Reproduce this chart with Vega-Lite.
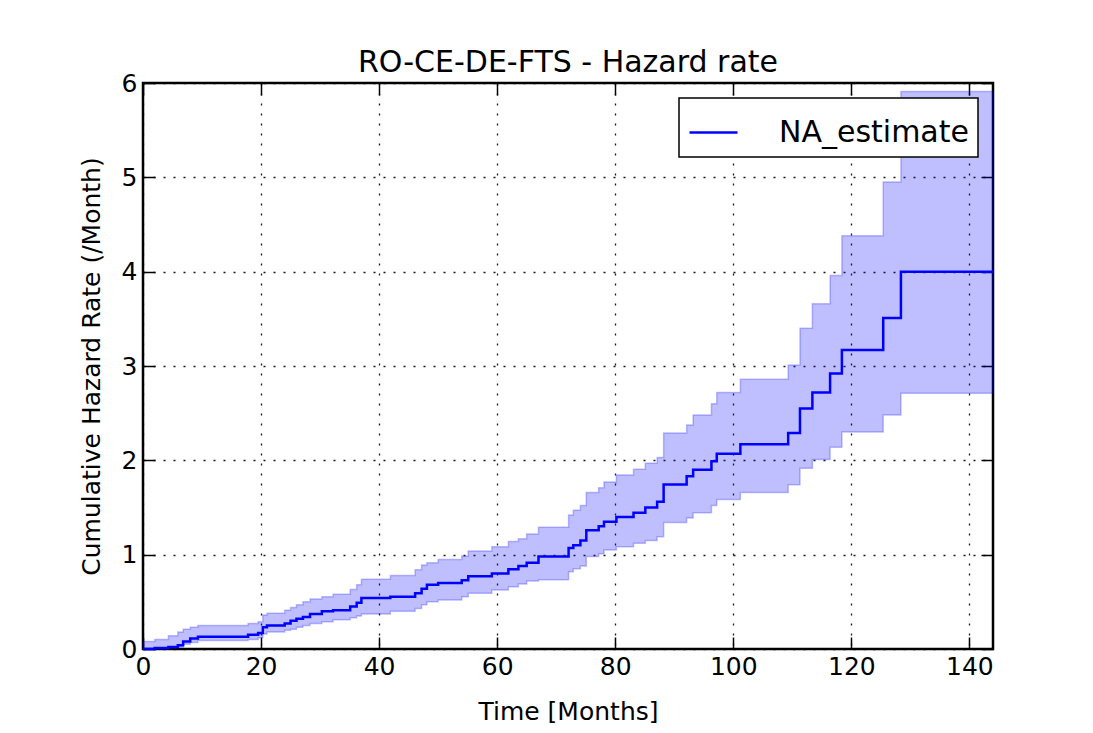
{
  "$schema": "https://vega.github.io/schema/vega-lite/v6.json",
  "width": 850,
  "height": 566,
  "autosize": {"type": "none"},
  "padding": {"left": 143, "top": 83, "right": 100, "bottom": 84},
  "background": "white",
  "title": {"text": "RO-CE-DE-FTS - Hazard rate", "fontSize": 30, "fontWeight": "normal", "color": "black", "font": "DejaVu Sans", "offset": -7},
  "config": {
    "font": "DejaVu Sans",
    "view": {"stroke": "black", "strokeWidth": 2.5},
    "axis": {
      "labelFont": "DejaVu Sans", "labelFontSize": 25, "labelColor": "black", "labelFlush": false,
      "titleFont": "DejaVu Sans", "titleFontSize": 25, "titleFontWeight": "normal", "titleColor": "black",
      "domain": false, "tickColor": "black", "tickWidth": 1.5, "tickSize": -12,
      "gridColor": "black", "gridWidth": 1.3, "gridDash": [2, 8], "gridOpacity": 0.9
    },
    "legend": {
      "orient": "top-right", "offset": 15, "strokeColor": "black", "strokeWidth": 1.5, "fillColor": "white",
      "padding": 9, "labelFontSize": 30, "labelFont": "DejaVu Sans", "labelColor": "black", "labelLimit": 500,
      "symbolType": "stroke", "symbolStrokeWidth": 2.5, "symbolSize": 2304, "labelOffset": 40, "cornerRadius": 0
    }
  },
  "data": {"values": [
    {"t": 0, "na": 0, "lo": 0, "hi": 0.08},
    {"t": 2.0, "na": 0.01, "lo": 0.0, "hi": 0.10},
    {"t": 4.3, "na": 0.02, "lo": 0.01, "hi": 0.14},
    {"t": 5.9, "na": 0.04, "lo": 0.02, "hi": 0.18},
    {"t": 6.8, "na": 0.08, "lo": 0.05, "hi": 0.21},
    {"t": 8.0, "na": 0.11, "lo": 0.07, "hi": 0.23},
    {"t": 9.3, "na": 0.13, "lo": 0.09, "hi": 0.25},
    {"t": 17.8, "na": 0.15, "lo": 0.10, "hi": 0.27},
    {"t": 19.5, "na": 0.17, "lo": 0.12, "hi": 0.29},
    {"t": 20.3, "na": 0.23, "lo": 0.16, "hi": 0.36},
    {"t": 21.0, "na": 0.25, "lo": 0.18, "hi": 0.38},
    {"t": 24.0, "na": 0.27, "lo": 0.20, "hi": 0.41},
    {"t": 25.0, "na": 0.30, "lo": 0.21, "hi": 0.44},
    {"t": 26.0, "na": 0.32, "lo": 0.23, "hi": 0.47},
    {"t": 27.1, "na": 0.34, "lo": 0.25, "hi": 0.50},
    {"t": 28.3, "na": 0.37, "lo": 0.27, "hi": 0.53},
    {"t": 30.3, "na": 0.40, "lo": 0.29, "hi": 0.555},
    {"t": 32.2, "na": 0.41, "lo": 0.31, "hi": 0.58},
    {"t": 35.1, "na": 0.45, "lo": 0.33, "hi": 0.63},
    {"t": 36.2, "na": 0.49, "lo": 0.35, "hi": 0.68},
    {"t": 37.0, "na": 0.54, "lo": 0.37, "hi": 0.74},
    {"t": 41.9, "na": 0.555, "lo": 0.40, "hi": 0.78},
    {"t": 46.1, "na": 0.59, "lo": 0.43, "hi": 0.84},
    {"t": 47.2, "na": 0.64, "lo": 0.47, "hi": 0.89},
    {"t": 48.1, "na": 0.68, "lo": 0.50, "hi": 0.915},
    {"t": 50.0, "na": 0.70, "lo": 0.52, "hi": 0.95},
    {"t": 54.0, "na": 0.73, "lo": 0.555, "hi": 0.985},
    {"t": 55.1, "na": 0.77, "lo": 0.59, "hi": 1.04},
    {"t": 59.1, "na": 0.80, "lo": 0.625, "hi": 1.085},
    {"t": 61.9, "na": 0.845, "lo": 0.66, "hi": 1.14},
    {"t": 63.6, "na": 0.88, "lo": 0.69, "hi": 1.17},
    {"t": 65.0, "na": 0.915, "lo": 0.72, "hi": 1.22},
    {"t": 67.0, "na": 0.98, "lo": 0.735, "hi": 1.29},
    {"t": 72.1, "na": 1.07, "lo": 0.82, "hi": 1.42},
    {"t": 72.9, "na": 1.10, "lo": 0.85, "hi": 1.47},
    {"t": 74.1, "na": 1.15, "lo": 0.88, "hi": 1.52},
    {"t": 75.1, "na": 1.26, "lo": 0.98, "hi": 1.66},
    {"t": 77.2, "na": 1.30, "lo": 1.01, "hi": 1.71},
    {"t": 78.1, "na": 1.35, "lo": 1.05, "hi": 1.77},
    {"t": 80.2, "na": 1.40, "lo": 1.085, "hi": 1.845},
    {"t": 83.1, "na": 1.445, "lo": 1.12, "hi": 1.905},
    {"t": 85.1, "na": 1.50, "lo": 1.15, "hi": 1.97},
    {"t": 87.1, "na": 1.56, "lo": 1.19, "hi": 2.03},
    {"t": 88.2, "na": 1.745, "lo": 1.34, "hi": 2.29},
    {"t": 92.1, "na": 1.83, "lo": 1.39, "hi": 2.375},
    {"t": 93.2, "na": 1.90, "lo": 1.445, "hi": 2.48},
    {"t": 96.3, "na": 1.99, "lo": 1.52, "hi": 2.60},
    {"t": 97.2, "na": 2.07, "lo": 1.585, "hi": 2.72},
    {"t": 101.2, "na": 2.17, "lo": 1.66, "hi": 2.86},
    {"t": 109.3, "na": 2.29, "lo": 1.74, "hi": 3.01},
    {"t": 111.3, "na": 2.55, "lo": 1.915, "hi": 3.40},
    {"t": 113.4, "na": 2.72, "lo": 2.01, "hi": 3.66},
    {"t": 116.4, "na": 2.92, "lo": 2.14, "hi": 3.96},
    {"t": 118.4, "na": 3.17, "lo": 2.30, "hi": 4.38},
    {"t": 125.4, "na": 3.51, "lo": 2.48, "hi": 4.95},
    {"t": 128.4, "na": 4.00, "lo": 2.71, "hi": 5.91},
    {"t": 144, "na": 4.00, "lo": 2.71, "hi": 5.91}
  ]},
  "resolve": {"axis": {"x": "independent", "y": "independent"}},
  "layer": [
    {
      "mark": {"type": "area", "interpolate": "step-after", "fill": "#0000ff", "fillOpacity": 0.25, "stroke": "#0000ff", "strokeOpacity": 0.25, "strokeWidth": 1.5},
      "encoding": {
        "x": {"field": "t", "type": "quantitative", "scale": {"domain": [0, 144], "nice": false, "zero": false},
              "axis": {"orient": "bottom", "title": "Time [Months]", "values": [0, 20, 40, 60, 80, 100, 120, 140], "labelPadding": 17, "titlePadding": 20, "grid": true}},
        "y": {"field": "lo", "type": "quantitative", "scale": {"domain": [0, 6], "nice": false},
              "axis": {"orient": "left", "title": "Cumulative Hazard Rate (/Month)", "values": [0, 1, 2, 3, 4, 5, 6], "labelPadding": 18, "titlePadding": 17, "grid": true}},
        "y2": {"field": "hi"}
      }
    },
    {
      "mark": {"type": "line", "interpolate": "step-after", "strokeWidth": 2.5},
      "encoding": {
        "x": {"field": "t", "type": "quantitative",
              "axis": {"orient": "top", "title": null, "labels": false, "grid": false, "values": [0, 20, 40, 60, 80, 100, 120, 140]}},
        "y": {"field": "na", "type": "quantitative",
              "axis": {"orient": "right", "title": null, "labels": false, "grid": false, "values": [0, 1, 2, 3, 4, 5, 6]}},
        "color": {"datum": "NA_estimate", "type": "nominal", "scale": {"range": ["#0000ff"]}, "legend": {"title": null}}
      }
    }
  ]
}
